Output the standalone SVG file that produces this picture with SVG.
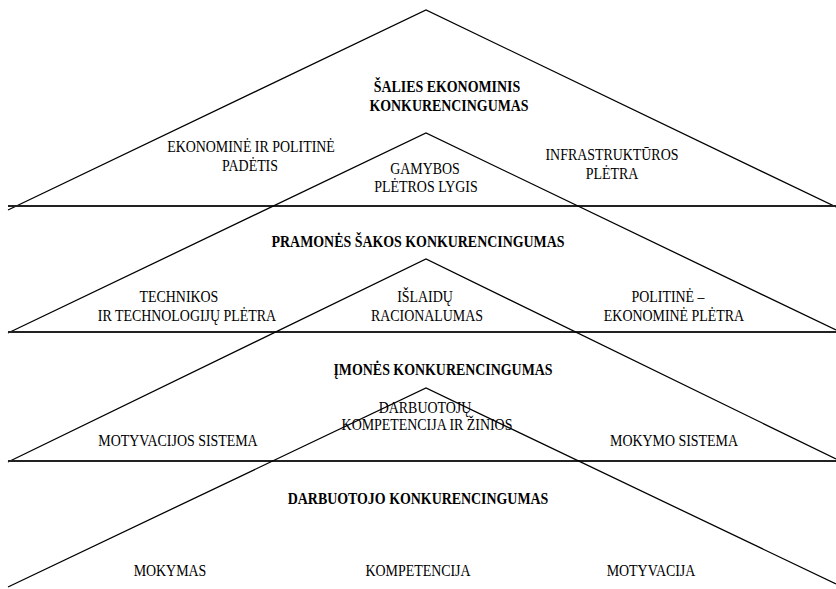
<svg xmlns="http://www.w3.org/2000/svg" width="836" height="589" viewBox="0 0 836 589">
<style>
.leg{fill:none;stroke:#000;stroke-width:1.3}
.base{fill:none;stroke:#222;stroke-width:1.8}
text{font-family:"Liberation Serif","Times New Roman",serif;font-size:16px;fill:#000;text-anchor:middle;dominant-baseline:central}
.b{font-weight:bold}
</style>
<rect width="836" height="589" fill="#fff"/>
<g id="lines">
<polyline class="leg" points="8,210 426,10 836,207"/>
<line class="base" x1="8" y1="206" x2="836" y2="206"/>
<polyline class="leg" points="8,333 426,133 836,330"/>
<line class="base" x1="8" y1="332" x2="836" y2="332"/>
<polyline class="leg" points="8,462 426,259 836,459"/>
<line class="base" x1="8" y1="461" x2="836" y2="461"/>
<polyline class="leg" points="8,587 426,388 836,584"/>
</g>
<g id="level1" transform="scale(0.87 1)">
<text class="b" x="513.8" y="87">ŠALIES EKONOMINIS</text>
<text class="b" x="516.1" y="106">KONKURENCINGUMAS</text>
<text x="288.5" y="147">EKONOMINĖ IR POLITINĖ</text>
<text x="287.4" y="166">PADĖTIS</text>
<text x="488.5" y="169">GAMYBOS</text>
<text x="489.7" y="187">PLĖTROS LYGIS</text>
<text x="703.4" y="155">INFRASTRUKTŪROS</text>
<text x="703.4" y="174">PLĖTRA</text>
</g>
<g id="level2" transform="scale(0.87 1)">
<text class="b" x="480.5" y="242">PRAMONĖS ŠAKOS KONKURENCINGUMAS</text>
<text x="205.7" y="297">TECHNIKOS</text>
<text x="214.9" y="316">IR TECHNOLOGIJŲ PLĖTRA</text>
<text x="488.5" y="297">IŠLAIDŲ</text>
<text x="490.8" y="316">RACIONALUMAS</text>
<text x="767.8" y="297">POLITINĖ –</text>
<text x="774.7" y="316">EKONOMINĖ PLĖTRA</text>
</g>
<g id="level3" transform="scale(0.87 1)">
<text class="b" x="509.2" y="370">ĮMONĖS KONKURENCINGUMAS</text>
<text x="204.6" y="441">MOTYVACIJOS SISTEMA</text>
<text x="488.5" y="408">DARBUOTOJŲ</text>
<text x="490.8" y="425">KOMPETENCIJA IR ŽINIOS</text>
<text x="774.7" y="441">MOKYMO SISTEMA</text>
</g>
<g id="level4" transform="scale(0.87 1)">
<text class="b" x="480.5" y="499">DARBUOTOJO KONKURENCINGUMAS</text>
<text x="195.4" y="571">MOKYMAS</text>
<text x="480.5" y="571">KOMPETENCIJA</text>
<text x="748.3" y="571">MOTYVACIJA</text>
</g>
</svg>
